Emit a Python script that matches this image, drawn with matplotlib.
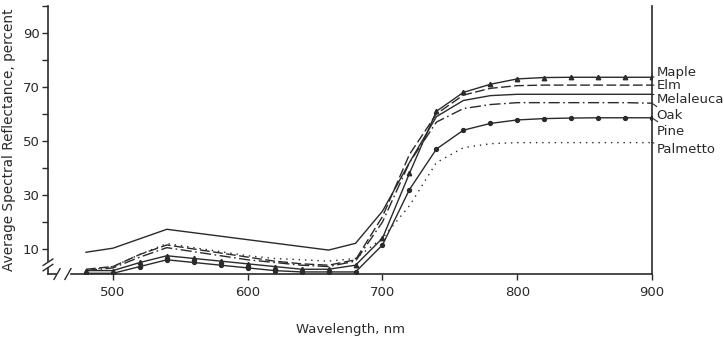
import matplotlib
matplotlib.use("Agg")
import matplotlib.pyplot as plt

plt.rcParams['font.family'] = ['DejaVu Sans']

# ---- data -------------------------------------------------------------
wl = [480, 500, 520, 540, 560, 580, 600, 620, 640, 660, 680, 700, 720,
      740, 760, 780, 800, 820, 840, 860, 880, 900]
maple = [2.0, 2.0, 5.0, 7.5, 6.5, 5.5, 4.5, 3.5, 2.5, 2.5, 4.0, 14.0, 38.0,
         61.0, 68.0, 71.0, 73.0, 73.5, 73.6, 73.6, 73.6, 73.6]
elm = [2.5, 3.5, 8.0, 11.5, 10.0, 8.5, 7.0, 5.5, 4.5, 4.0, 6.0, 22.0, 45.0,
       60.0, 67.0, 69.5, 70.5, 70.7, 70.7, 70.7, 70.7, 70.7]
oak = [2.0, 3.0, 7.0, 10.5, 9.0, 7.5, 6.0, 5.0, 4.0, 3.5, 5.5, 20.0, 42.0,
       57.0, 62.0, 63.5, 64.2, 64.2, 64.2, 64.2, 64.2, 64.0]
pine = [1.0, 1.0, 3.5, 6.0, 5.0, 4.0, 3.0, 2.0, 1.5, 1.5, 1.5, 11.5, 32.0,
        47.0, 54.0, 56.5, 57.8, 58.3, 58.5, 58.6, 58.6, 58.6]
palmetto = [2.0, 3.5, 8.0, 12.0, 10.5, 9.0, 7.5, 6.5, 6.0, 5.5, 6.5, 14.0,
            26.0, 42.0, 47.5, 49.0, 49.4, 49.4, 49.4, 49.4, 49.4, 49.4]
mel_wl = [480, 500, 540, 660, 680, 700, 720, 740, 760, 780, 800, 900]
melaleuca = [8.8, 10.3, 17.3, 9.6, 12.1, 24.0, 42.0, 59.0, 65.0, 66.8,
             67.3, 67.3]

labels = ["Maple", "Elm", "Melaleuca", "Oak", "Pine", "Palmetto"]
label_y = [75.5, 70.4, 65.2, 59.3, 53.7, 46.7]
end_vals = [73.6, 70.7, 67.3, 64.0, 58.6, 49.4]

xticks = [500, 600, 700, 800, 900]
yticks_major = [10, 30, 50, 70, 90]
yticks_minor = [20, 40, 60, 80, 100]

# ---- figure -----------------------------------------------------------
fig = plt.figure(figsize=(7.24, 3.41), dpi=100)
ax = fig.add_axes([48 / 724, 1 - 274 / 341, (652 - 48) / 724, (274 - 6) / 341])
ink = '#2a2a2a'

ax.plot(wl, maple, color=ink, lw=1.0, marker='^', ms=3.2)
ax.plot(wl, elm, color=ink, lw=1.0, dashes=(7, 2.5))
ax.plot(mel_wl, melaleuca, color=ink, lw=1.0)
ax.plot(wl, oak, color=ink, lw=1.0, dashes=(8, 2.5, 1.2, 2.5))
ax.plot(wl, pine, color=ink, lw=1.0, marker='o', ms=2.8)
ax.plot(wl, palmetto, color=ink, lw=1.0, dashes=(1, 3.5))

ax.set_xlim(451.8, 900)
ax.set_ylim(0.74, 100)

ax.set_xticks(xticks)
ax.set_xticklabels([str(t) for t in xticks])
ax.set_yticks(yticks_major)
ax.set_yticklabels([str(t) for t in yticks_major])
ax.set_yticks(yticks_minor, minor=True)
ax.tick_params(axis='both', which='both', direction='out', colors=ink,
               labelsize=9.5, labelcolor=ink, width=1.0)
ax.tick_params(axis='y', which='major', length=4, pad=2)
ax.tick_params(axis='y', which='minor', length=4)
ax.tick_params(axis='x', which='major', length=4, pad=5)

for s in ['left', 'bottom', 'right']:
    ax.spines[s].set_color(ink)
    ax.spines[s].set_linewidth(1.2)
ax.spines['top'].set_visible(False)

# axis breaks
tr = ax.transAxes
ax.add_patch(plt.Rectangle((-0.01, 0.028), 0.02, 0.018, transform=tr,
                           color='white', clip_on=False, zorder=5))
ax.add_patch(plt.Rectangle((0.015, -0.01), 0.02, 0.02, transform=tr,
                           color='white', clip_on=False, zorder=5))
for dy in (0.024, 0.044):
    ax.plot([-0.008, 0.008], [dy - 0.012, dy + 0.012], transform=tr,
            color=ink, lw=1.0, clip_on=False, zorder=6)
for dx in (0.015, 0.033):
    ax.plot([dx - 0.005, dx + 0.005], [-0.02, 0.02], transform=tr,
            color=ink, lw=1.0, clip_on=False, zorder=6)

# labels on right
for lab, ly, ev in zip(labels, label_y, end_vals):
    ax.annotate(lab, xy=(900, ev), xytext=(903.5, ly), textcoords='data',
                fontsize=9.5, color=ink, va='center', ha='left',
                annotation_clip=False,
                arrowprops=dict(arrowstyle='-', color=ink, lw=0.8,
                                shrinkA=0, shrinkB=0))

ax.set_xlabel("Wavelength, nm", fontsize=9.5, color=ink, labelpad=17)
ax.set_ylabel("Average Spectral Reflectance, percent", fontsize=9.8,
              color=ink, labelpad=5)

fig.savefig("out.png", dpi=100)
